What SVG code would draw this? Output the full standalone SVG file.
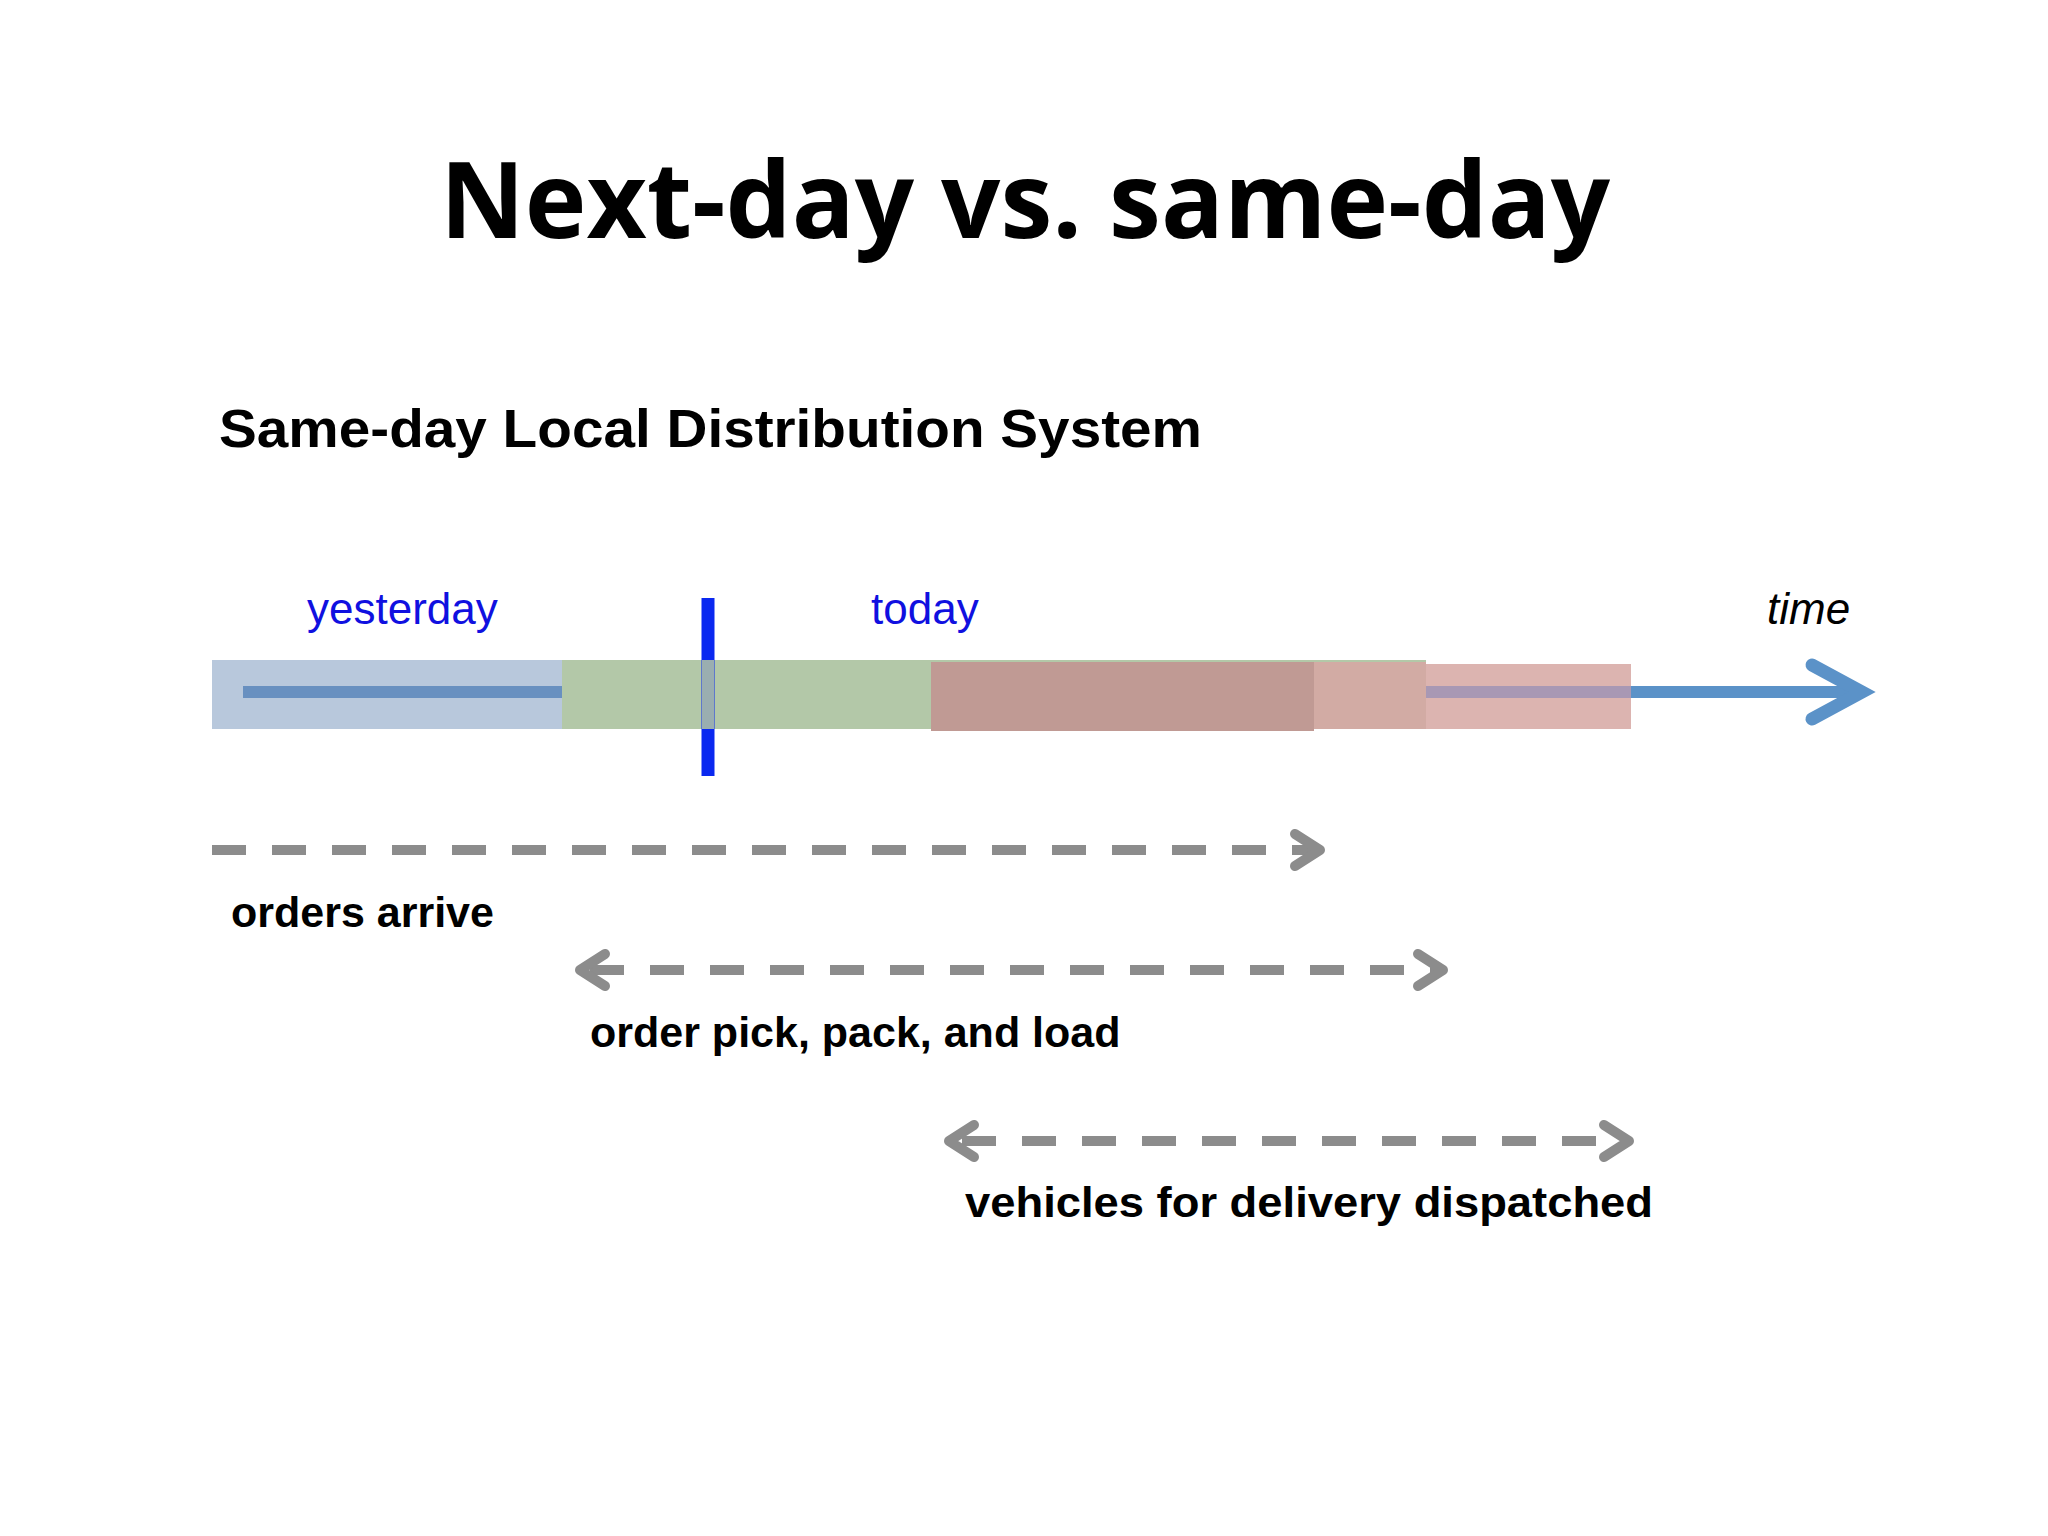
<svg xmlns="http://www.w3.org/2000/svg" width="2048" height="1536" viewBox="0 0 2048 1536">
<style>
.lbl{font-family:"Liberation Sans",Arial,sans-serif;font-weight:bold;font-size:43px;fill:#000}
.day{font-family:"Liberation Sans",Arial,sans-serif;font-size:44px;fill:#1010e0}
.dash{stroke:#8c8c8c;stroke-width:10;stroke-dasharray:34 26;fill:none}
.head{stroke:#8c8c8c;stroke-width:10;fill:none;stroke-linecap:round;stroke-linejoin:round}
</style>
<rect width="2048" height="1536" fill="#fff"/>
<text x="1025" y="238" text-anchor="middle" font-family="Open Sans,Liberation Sans,sans-serif" font-weight="bold" font-size="106" textLength="1170" lengthAdjust="spacingAndGlyphs">Next-day vs. same-day</text>
<text x="219" y="447" font-family="Liberation Sans,Arial,sans-serif" font-weight="bold" font-size="53" textLength="983" lengthAdjust="spacingAndGlyphs">Same-day Local Distribution System</text>
<g id="timeline">
<rect x="212" y="660" width="350" height="69" fill="#b8c8dc"/>
<rect x="562" y="660" width="864" height="69" fill="#b3c8a8"/>
<rect x="931" y="662" width="383" height="69" fill="#c09a94"/>
<rect x="1314" y="662" width="112" height="67" fill="#d2aba4"/>
<rect x="1426" y="664" width="205" height="65" fill="#dcb4b0"/>
<line x1="243" y1="692" x2="562" y2="692" stroke="#6890c0" stroke-width="12"/>
<line x1="1426" y1="692" x2="1631" y2="692" stroke="#a898b4" stroke-width="12"/>
<line x1="1631" y1="692" x2="1860" y2="692" stroke="#5b92c8" stroke-width="12"/>
<polyline points="1812,665 1862,692 1812,719" fill="none" stroke="#5b92c8" stroke-width="13" stroke-linecap="round"/>
<line x1="708" y1="598" x2="708" y2="776" stroke="#0a28f0" stroke-width="13"/>
<rect x="702" y="660" width="12" height="69" fill="#9aaeb0"/>
</g>
<text class="day" x="307" y="624">yesterday</text>
<text class="day" x="871" y="624">today</text>
<text x="1767" y="624" font-family="Liberation Sans,Arial,sans-serif" font-style="italic" font-size="44">time</text>
<g id="connectors">
<line class="dash" x1="212" y1="850" x2="1315" y2="850"/>
<polyline class="head" points="1295,834 1320,850 1295,866"/>
<line class="dash" x1="580" y1="970" x2="1435" y2="970" stroke-dashoffset="-10"/>
<polyline class="head" points="605,954 580,970 605,986"/>
<polyline class="head" points="1418,954 1443,970 1418,986"/>
<line class="dash" x1="952" y1="1141" x2="1622" y2="1141" stroke-dashoffset="-10"/>
<polyline class="head" points="974,1125 949,1141 974,1157"/>
<polyline class="head" points="1604,1125 1629,1141 1604,1157"/>
</g>
<text class="lbl" x="231" y="927">orders arrive</text>
<text class="lbl" x="590" y="1047">order pick, pack, and load</text>
<text class="lbl" x="965" y="1217" textLength="688" lengthAdjust="spacingAndGlyphs">vehicles for delivery dispatched</text>
</svg>
